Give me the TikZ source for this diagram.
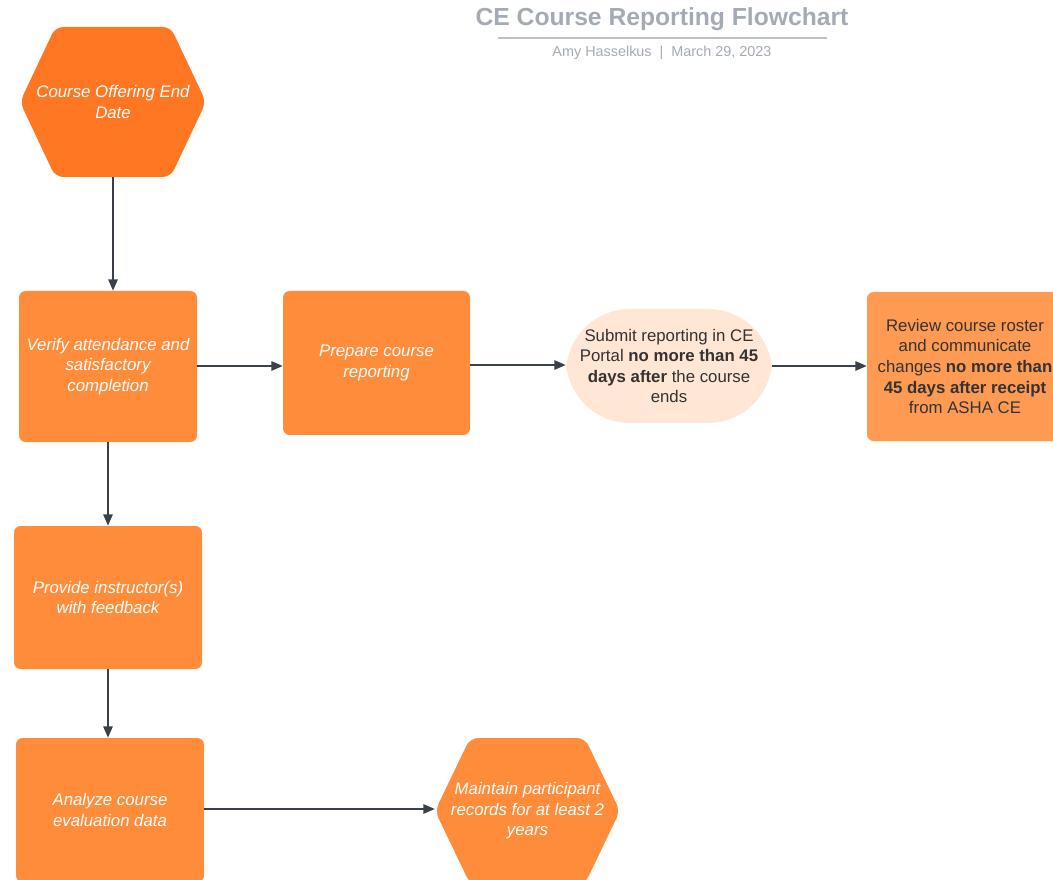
\documentclass[tikz,border=0pt]{standalone}
\usepackage{fontspec}
\setmainfont{Liberation Sans}
\usetikzlibrary{arrows.meta,calc}
\definecolor{hexdark}{HTML}{FF7722}
\definecolor{boxorange}{HTML}{FF8C3B}
\definecolor{boxlight}{HTML}{FF9A52}
\definecolor{peach}{HTML}{FFE6D5}
\definecolor{arrowgray}{HTML}{3A414A}
\definecolor{titlegray}{HTML}{A5ABB5}
\definecolor{rulegray}{HTML}{BCC1CA}
\definecolor{darktext}{HTML}{333333}
\tikzset{
  box/.style={fill=#1, rounded corners=5pt, inner sep=0pt, align=center,
    font=\fontsize{12.6pt}{15.4pt}\selectfont\itshape, text=white},
  darkbox/.style={fill=#1, rounded corners=5pt, inner sep=0pt, align=center,
    font=\fontsize{12.6pt}{15.4pt}\selectfont, text=darktext},
  hexnode/.style={inner sep=0pt, align=center,
    font=\fontsize{12.6pt}{15.4pt}\selectfont\itshape, text=white,
    path picture={
      \fill[#1, rounded corners=6pt]
        (path picture bounding box.west)
        -- ($(path picture bounding box.north west)!0.19!(path picture bounding box.north east)$)
        -- ($(path picture bounding box.north west)!0.81!(path picture bounding box.north east)$)
        -- (path picture bounding box.east)
        -- ($(path picture bounding box.south west)!0.81!(path picture bounding box.south east)$)
        -- ($(path picture bounding box.south west)!0.19!(path picture bounding box.south east)$)
        -- cycle;}},
  conn/.style={draw=arrowgray, line width=1.2pt, -{Triangle[length=8.5pt,width=7pt]}},
}
\begin{document}
\begin{tikzpicture}[x=0.75pt,y=-0.75pt]
\useasboundingbox (0,0) rectangle (1053,880);
\clip (0,0) rectangle (1053,880);
% title
\node[font=\fontsize{18.5pt}{21pt}\selectfont\bfseries, text=titlegray] (title) at (662,19.5) {CE Course Reporting Flowchart};
\draw[rulegray, line width=1.4pt] (498,38) -- (827,38);
\node[font=\fontsize{10.8pt}{12pt}\selectfont, text=titlegray] (sub) at (662,52.5) {Amy Hasselkus\ \ |\ \ March 29, 2023};
% nodes
\node[hexnode=hexdark, minimum width=186*0.75pt, minimum height=150*0.75pt] (start) at (113,102) {Course Offering End\\Date};
\node[box=boxorange, minimum width=178*0.75pt, minimum height=151*0.75pt] (verify) at (108,366.5) {Verify attendance and\\satisfactory\\completion};
\node[box=boxorange, minimum width=187*0.75pt, minimum height=144*0.75pt] (prepare) at (376.5,363) {Prepare course\\reporting};
\node[darkbox=peach, rounded corners=48pt, minimum width=206*0.75pt, minimum height=114*0.75pt] (submit) at (669,366) {Submit reporting in CE\\Portal \textbf{no more than 45}\\\textbf{days after} the course\\ends};
\node[darkbox=boxlight, minimum width=196*0.75pt, minimum height=149*0.75pt] (review) at (965,366.5) {Review course roster\\and communicate\\changes \textbf{no more than}\\\textbf{45 days after receipt}\\from ASHA CE};
\node[box=boxorange, minimum width=188*0.75pt, minimum height=143*0.75pt] (provide) at (108,597.5) {Provide instructor(s)\\with feedback};
\node[box=boxorange, minimum width=188*0.75pt, minimum height=144*0.75pt] (analyze) at (110,810) {Analyze course\\evaluation data};
\node[hexnode=boxorange, minimum width=185*0.75pt, minimum height=146*0.75pt] (maintain) at (527.5,811) {Maintain participant\\records for at least 2\\years};
% connectors
\draw[conn] (start.south) -- (verify.north -| start.south);
\draw[conn] (verify.east |- 0,366) -- (prepare.west |- 0,366);
\draw[conn] (prepare.east |- 0,365) -- (submit.west |- 0,365);
\draw[conn] (submit.east) -- (review.west |- submit.east);
\draw[conn] (verify.south) -- (provide.north -| verify.south);
\draw[conn] (provide.south) -- (analyze.north -| provide.south);
\draw[conn] (analyze.east |- 0,809) -- (maintain.west |- 0,809);
\end{tikzpicture}
\end{document}
